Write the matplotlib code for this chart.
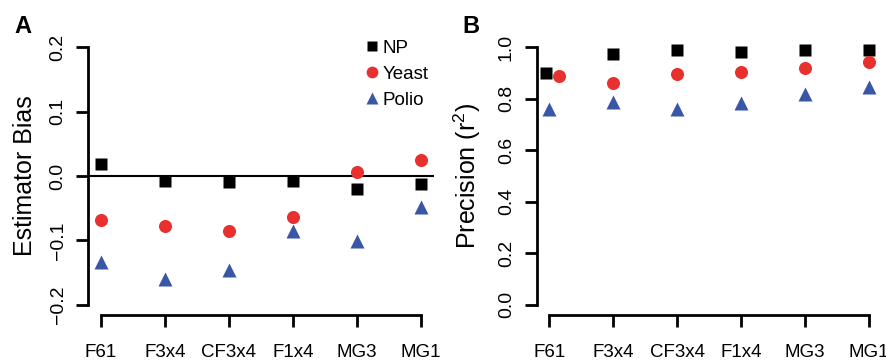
import matplotlib
matplotlib.use("Agg")
import matplotlib.pyplot as plt
from matplotlib.lines import Line2D
import numpy as np

plt.rcParams['font.family'] = ['Liberation Sans', 'DejaVu Sans']
plt.rcParams['mathtext.fontset'] = 'custom'
plt.rcParams['mathtext.rm'] = 'Liberation Sans'
plt.rcParams['mathtext.default'] = 'regular'

# ---------------- data ----------------
categories = ["F61", "F3x4", "CF3x4", "F1x4", "MG3", "MG1"]
series_names = ["NP", "Yeast", "Polio"]

bias_np = [0.019, -0.008, -0.009, -0.008, -0.020, -0.013]
bias_yeast = [-0.068, -0.077, -0.085, -0.063, 0.006, 0.025]
bias_polio = [-0.134, -0.160, -0.146, -0.086, -0.101, -0.048]

prec_np = [0.902, 0.975, 0.988, 0.984, 0.988, 0.988]
prec_yeast = [0.889, 0.863, 0.897, 0.906, 0.918, 0.942]
prec_polio = [0.759, 0.786, 0.759, 0.782, 0.817, 0.848]

bias_ticks = [-0.2, -0.1, 0.0, 0.1, 0.2]
prec_ticks = [0.0, 0.2, 0.4, 0.6, 0.8, 1.0]

# small horizontal dodge used in panel B for overlapping F61 points (category units)
dodge_b = {"NP": [-0.05, 0, 0, 0, 0, 0], "Yeast": [0.15, 0, 0, 0, 0, 0], "Polio": [0, 0, 0, 0, 0, 0]}

colors = {"NP": "black", "Yeast": "#E8302E", "Polio": "#3A56A6"}
markers = {"NP": "s", "Yeast": "o", "Polio": "^"}
msizes = {"NP": 8.6, "Yeast": 9.4, "Polio": 10.0}

W, H = 887, 360
fig = plt.figure(figsize=(W / 100, H / 100), dpi=100)

def px_axes(left, right, top, bottom):
    return fig.add_axes([left / W, 1 - bottom / H, (right - left) / W, (bottom - top) / H])

axA = px_axes(88.2, 433.8, 37.1, 315.0)
axB = px_axes(536.5, 882.0, 37.1, 315.0)

x = np.arange(1, len(categories) + 1)
lw = 2.0

def style(ax, yticks, ylo, yhi):
    ax.set_xlim(0.8, 6.2)
    ax.set_ylim(ylo, yhi)
    for s in ["top", "right"]:
        ax.spines[s].set_visible(False)
    ax.spines["left"].set_linewidth(lw)
    ax.spines["bottom"].set_linewidth(lw)
    ax.spines["left"].set_bounds(yticks[0], yticks[-1])
    ax.spines["bottom"].set_bounds(1, len(categories))
    ax.set_xticks(x)
    ax.set_xticklabels(categories, fontsize=13.5)
    ax.set_yticks(yticks)
    ax.set_yticklabels([("%.1f" % t).replace("-", "\u2212") for t in yticks],
                       rotation=90, va="center", ha="right", fontsize=14)
    ax.tick_params(axis="both", direction="out", length=8.6, width=lw)
    ax.tick_params(axis="x", pad=12.5)
    ax.tick_params(axis="y", pad=7)
    ax.patch.set_visible(False)

# Panel A
style(axA, bias_ticks, -0.216, 0.216)
axA.axhline(0, color="black", lw=1.5, zorder=1)
for name, vals in zip(series_names, [bias_np, bias_yeast, bias_polio]):
    axA.plot(x, vals, linestyle="none", marker=markers[name], ms=msizes[name],
             color=colors[name], mec="none", zorder=3)
axA.set_ylabel("Estimator Bias", fontsize=18)
axA.yaxis.set_label_coords(-0.148, 0.5)

handles = [Line2D([], [], linestyle="none", marker=markers[n], ms=msizes[n] * 0.9,
                  color=colors[n], mec="none") for n in series_names]
leg = axA.legend(handles, series_names, loc="upper left",
                 bbox_to_anchor=(364.5 / W, 1 - 39.5 / H), bbox_transform=fig.transFigure,
                 frameon=False, fontsize=13.5, handlelength=0.75, handletextpad=0.2,
                 labelspacing=0.48, borderpad=0, borderaxespad=0)

# Panel B
style(axB, prec_ticks, -0.04, 1.04)
for name, vals in zip(series_names, [prec_np, prec_yeast, prec_polio]):
    axB.plot(x + np.array(dodge_b[name]), vals, linestyle="none", marker=markers[name],
             ms=msizes[name], color=colors[name], mec="none", zorder=3, clip_on=False)
axB.set_ylabel("Precision (r$^2$)", fontsize=18)
axB.yaxis.set_label_coords(-0.155, 0.5)

fig.text(14 / W, 1 - 32.7 / H, "A", fontsize=17, fontweight="bold", va="baseline")
fig.text(462 / W, 1 - 32.7 / H, "B", fontsize=17, fontweight="bold", va="baseline")

fig.savefig("out.png", dpi=100)
